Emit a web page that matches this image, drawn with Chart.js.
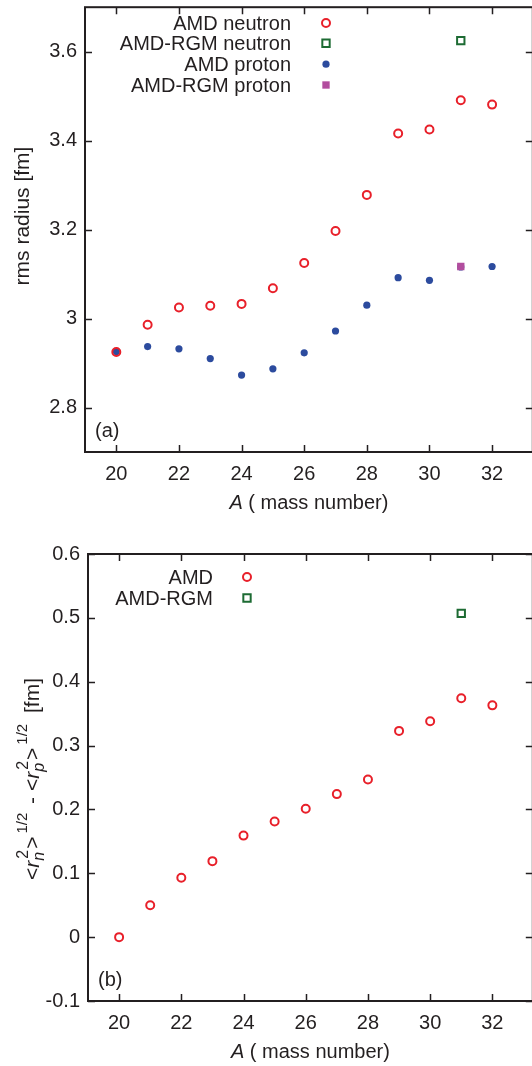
<!DOCTYPE html>
<html>
<head>
<meta charset="utf-8">
<script src="https://cdn.jsdelivr.net/npm/chart.js@4.4.1/dist/chart.umd.min.js"></script>
<style>
html, body { margin: 0; padding: 0; background: #fff; overflow: hidden; width: 532px; height: 1066px; }
#chartA { position: absolute; left: 0; top: 0; }
#chartB { position: absolute; left: 0; top: 530px; }
</style>
</head>
<body>
<canvas id="chartA" width="540" height="530"></canvas>
<canvas id="chartB" width="540" height="536"></canvas>
<script>
// Data
const massNumbers = [20, 21, 22, 23, 24, 25, 26, 27, 28, 29, 30, 31, 32];
const amdNeutron = [2.925, 2.986, 3.025, 3.029, 3.033, 3.068, 3.125, 3.197, 3.278, 3.416, 3.425, 3.491, 3.481];
const amdProton = [2.926, 2.937, 2.932, 2.910, 2.873, 2.887, 2.923, 2.972, 3.030, 3.092, 3.086, 3.116, 3.117];
const rgmMass = [31];
const rgmNeutron = [3.625];
const rgmProton = [3.117];
const amdDiff = [0.0, 0.050, 0.093, 0.119, 0.159, 0.181, 0.201, 0.224, 0.247, 0.323, 0.338, 0.374, 0.363];
const rgmDiff = [0.507];

// Tick labels
const xTicks = [20, 22, 24, 26, 28, 30, 32];
const yTicksA = [2.8, 3.0, 3.2, 3.4, 3.6];
const yTicksB = [-0.1, 0.0, 0.1, 0.2, 0.3, 0.4, 0.5, 0.6];

const FONT = '"Liberation Sans", Arial, Helvetica, sans-serif';
const INK = '#231f20';
const RED = '#e8202a';
const BLUE = '#2c4b9e';
const GREEN = '#1d6b33';
const MAGENTA = '#b24d9e';

function toPoints(xs, ys) {
    return xs.map((x, i) => ({ x: x, y: ys[i] }));
}

function fmt(v) {
    return String(Number(v.toFixed(2)));
}

/**
 * Draw a run of text pieces (italic / sub / superscript) along a line
 * pieces: {t, it, size, dy, dx, gap, stack}
 * a piece with stack:true shares its x with the next piece
 */
function drawRich(ctx, pieces, cx, cy, rotate) {
    ctx.save();
    ctx.translate(cx, cy);
    if (rotate) ctx.rotate(-Math.PI / 2);
    ctx.fillStyle = INK;
    ctx.textBaseline = 'alphabetic';
    ctx.textAlign = 'left';

    const widths = pieces.map(p => {
        ctx.font = (p.it ? 'italic ' : '') + p.size + 'px ' + FONT;
        return ctx.measureText(p.t).width + (p.dx || 0);
    });
    const advance = pieces.map((p, i) => {
        if (p.stack) return 0;
        let w = widths[i];
        if (i > 0 && pieces[i - 1].stack) w = Math.max(w, widths[i - 1]);
        return w + (p.gap || 0);
    });
    const total = advance.reduce((a, b) => a + b, 0);

    let x = -total / 2;
    pieces.forEach((p, i) => {
        ctx.font = (p.it ? 'italic ' : '') + p.size + 'px ' + FONT;
        ctx.fillText(p.t, x + (p.dx || 0), p.dy || 0);
        x += advance[i];
    });
    ctx.restore();
}

// Frame with inward ticks on all four sides, titles, key and panel label
const framePlugin = {
    id: 'frame',
    afterDraw(chart, args, opts) {
        const ctx = chart.ctx;
        const area = chart.chartArea;
        const xs = chart.scales.x;
        const ys = chart.scales.y;
        const tick = 7;

        ctx.save();
        ctx.strokeStyle = INK;
        ctx.lineWidth = 2;
        ctx.strokeRect(area.left, area.top, area.right - area.left, area.bottom - area.top);
        ctx.lineWidth = 1.5;
        ctx.beginPath();
        xTicks.forEach(v => {
            const px = Math.round(xs.getPixelForValue(v)) + 0.5;
            ctx.moveTo(px, area.bottom);
            ctx.lineTo(px, area.bottom - tick);
            ctx.moveTo(px, area.top);
            ctx.lineTo(px, area.top + tick);
        });
        opts.yTicks.forEach(v => {
            const py = Math.round(ys.getPixelForValue(v)) + 0.5;
            ctx.moveTo(area.left, py);
            ctx.lineTo(area.left + tick, py);
            ctx.moveTo(area.right, py);
            ctx.lineTo(area.right - tick, py);
        });
        ctx.stroke();

        // panel label
        ctx.fillStyle = INK;
        ctx.font = '20px ' + FONT;
        ctx.textAlign = 'left';
        ctx.textBaseline = 'middle';
        ctx.fillText(opts.panel, area.left + 10, area.bottom - 21);

        // x title
        const cx = (area.left + area.right) / 2;
        drawRich(ctx, [
            { t: 'A', it: true, size: 20 },
            { t: ' ( mass number)', size: 20 }
        ], cx, area.bottom + 57, false);

        // y title
        drawRich(ctx, opts.yTitle, opts.yTitleX, opts.yTitleY, true);

        // key: right aligned text followed by the marker
        opts.key.forEach(k => {
            const ds = chart.data.datasets[k.ds];
            ctx.font = '20px ' + FONT;
            ctx.textAlign = 'right';
            ctx.textBaseline = 'middle';
            ctx.fillStyle = INK;
            ctx.fillText(ds.label, opts.keyTextX, k.y + 1);

            ctx.fillStyle = ds.backgroundColor;
            ctx.strokeStyle = ds.borderColor;
            ctx.lineWidth = ds.borderWidth;
            ctx.beginPath();
            if (ds.pointStyle === 'rect') {
                const s = Math.SQRT1_2 * ds.pointRadius;
                ctx.rect(opts.keyMarkX - s, k.y - s, 2 * s, 2 * s);
            } else {
                ctx.arc(opts.keyMarkX, k.y, ds.pointRadius, 0, Math.PI * 2);
            }
            ctx.fill();
            if (ds.borderWidth > 0) ctx.stroke();
        });
        ctx.restore();
    }
};

function axisOptions(yMin, yMax, yTicks, yWidth, xHeight) {
    const tickFont = { family: FONT, size: 20 };
    return {
        x: {
            type: 'linear',
            min: 19,
            max: 33.3,
            afterFit: s => { s.height = xHeight; s.paddingLeft = 0; s.paddingRight = 0; },
            afterBuildTicks: s => { s.ticks = xTicks.map(v => ({ value: v })); },
            grid: { display: false, drawTicks: false },
            border: { display: false },
            ticks: { padding: 10, font: tickFont, color: INK, maxRotation: 0, autoSkip: false, callback: v => fmt(v) }
        },
        y: {
            type: 'linear',
            min: yMin,
            max: yMax,
            afterFit: s => { s.width = yWidth; s.paddingTop = 0; s.paddingBottom = 0; },
            afterBuildTicks: s => { s.ticks = yTicks.map(v => ({ value: v })); },
            grid: { display: false, drawTicks: false },
            border: { display: false },
            ticks: { padding: 8, font: tickFont, color: INK, autoSkip: false, callback: v => fmt(v) }
        }
    };
}

const openCircle = { pointStyle: 'circle', pointRadius: 4, borderWidth: 2, borderColor: RED, backgroundColor: 'rgba(0,0,0,0)' };
const openSquare = { pointStyle: 'rect', pointRadius: 5.2, borderWidth: 2, borderColor: GREEN, backgroundColor: 'rgba(0,0,0,0)' };

// Panel (a): rms radii
new Chart(document.getElementById('chartA'), {
    type: 'scatter',
    data: {
        datasets: [
            Object.assign({ label: 'AMD neutron', data: toPoints(massNumbers, amdNeutron), order: 1 }, openCircle),
            Object.assign({ label: 'AMD-RGM neutron', data: toPoints(rgmMass, rgmNeutron), order: 0 }, openSquare),
            { label: 'AMD proton', data: toPoints(massNumbers, amdProton), order: 3,
              pointStyle: 'circle', pointRadius: 3.6, borderWidth: 0, borderColor: BLUE, backgroundColor: BLUE },
            { label: 'AMD-RGM proton', data: toPoints(rgmMass, rgmProton), order: 2,
              pointStyle: 'rect', pointRadius: 5.2, borderWidth: 0, borderColor: MAGENTA, backgroundColor: MAGENTA }
        ]
    },
    options: {
        responsive: false,
        animation: false,
        devicePixelRatio: 1,
        layout: { padding: { top: 5, right: 6, left: 0, bottom: 0 } },
        scales: axisOptions(2.7, 3.7, yTicksA, 85, 78),
        plugins: {
            legend: { display: false },
            tooltip: { enabled: false },
            frame: {
                panel: '(a)',
                yTicks: yTicksA,
                yTitle: [{ t: 'rms radius [fm]', size: 21 }],
                yTitleX: 29,
                yTitleY: 216,
                keyTextX: 291,
                keyMarkX: 326,
                key: [
                    { ds: 0, y: 23 },
                    { ds: 1, y: 43.3 },
                    { ds: 2, y: 64.2 },
                    { ds: 3, y: 85 }
                ]
            }
        }
    },
    plugins: [framePlugin]
});

// Panel (b): neutron skin
new Chart(document.getElementById('chartB'), {
    type: 'scatter',
    data: {
        datasets: [
            Object.assign({ label: 'AMD', data: toPoints(massNumbers, amdDiff) }, openCircle),
            Object.assign({ label: 'AMD-RGM', data: toPoints(rgmMass, rgmDiff) }, openSquare)
        ]
    },
    options: {
        responsive: false,
        animation: false,
        devicePixelRatio: 1,
        layout: { padding: { top: 24, right: 4, left: 0, bottom: 0 } },
        scales: axisOptions(-0.1, 0.6, yTicksB, 88, 65),
        plugins: {
            legend: { display: false },
            tooltip: { enabled: false },
            frame: {
                panel: '(b)',
                yTicks: yTicksB,
                yTitle: [
                    { t: '<', size: 21 },
                    { t: 'r', it: true, size: 21 },
                    { t: 'n', it: true, size: 16, dy: 5, stack: true },
                    { t: '2', size: 16, dy: -11, dx: 2, gap: 1 },
                    { t: '>', size: 21, gap: 3 },
                    { t: '1/2', size: 15, dy: -12, gap: 3 },
                    { t: ' - <', size: 21 },
                    { t: 'r', it: true, size: 21 },
                    { t: 'p', it: true, size: 16, dy: 5, stack: true },
                    { t: '2', size: 16, dy: -11, dx: 2, gap: 1 },
                    { t: '>', size: 21, gap: 3 },
                    { t: '1/2', size: 15, dy: -12, gap: 5 },
                    { t: ' [fm]', size: 21 }
                ],
                yTitleX: 39,
                yTitleY: 249,
                keyTextX: 213,
                keyMarkX: 247,
                key: [
                    { ds: 0, y: 47 },
                    { ds: 1, y: 68 }
                ]
            }
        }
    },
    plugins: [framePlugin]
});
</script>
</body>
</html>
